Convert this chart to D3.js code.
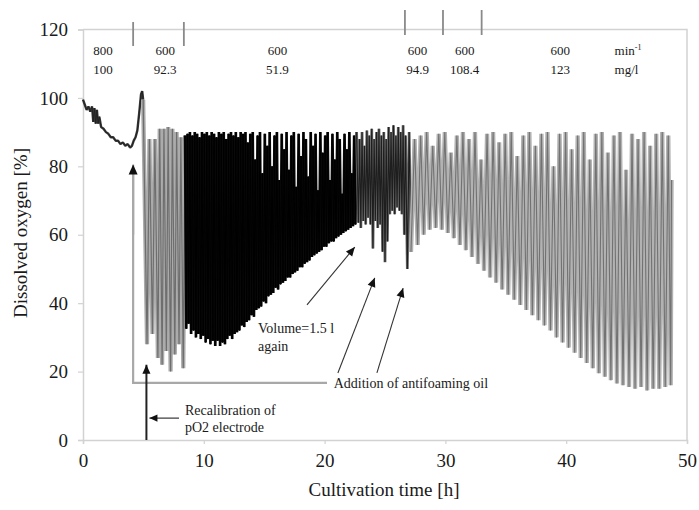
<!DOCTYPE html>
<html>
<head>
<meta charset="utf-8">
<script src="https://cdn.jsdelivr.net/npm/d3@7"></script>
<style>
  html, body { margin: 0; padding: 0; background: #fff; }
  svg { display: block; }
  text { font-family: "Liberation Serif", "Times New Roman", serif; fill: #1a1a1a; }
</style>
</head>
<body>
<svg id="chart" width="699" height="510"></svg>
<script>
// ---- Axis ticks ----
const xTicks = [0, 10, 20, 30, 40, 50];
const yTicks = [0, 20, 40, 60, 80, 100, 120];

// ---- Process phases (stirrer speed / feed rate) ----
const phaseT = [4.15, 8.35, 26.65, 29.8, 33.0];          // phase change times [h]
const phaseLabelT = [1.66, 6.8, 16.1, 27.7, 31.6, 39.5];  // label centres [h]
const stirRate = ["800", "600", "600", "600", "600", "600"];
const feedRate = ["100", "92.3", "51.9", "94.9", "108.4", "123"];

// ---- Dissolved oxygen record [h, %] ----
// batch phase, slow decline
const batchDO = [
  [0, 99.5], [0.15, 98], [0.3, 96.5], [0.45, 97.5], [0.6, 96], [0.75, 97.5], [0.85, 93], [0.95, 97],
  [1.05, 92.5], [1.15, 96.5], [1.25, 92.5], [1.35, 94.5], [1.5, 91.5], [1.7, 91], [1.9, 90], [2.1, 89.5],
  [2.3, 88.5], [2.5, 88.5], [2.7, 87.5], [2.9, 87.5], [3.1, 86.5], [3.3, 87], [3.5, 86], [3.7, 86.5],
  [3.9, 85.5], [4.05, 86], [4.2, 87.5], [4.35, 88.5], [4.5, 90.5], [4.65, 95.5], [4.8, 101], [4.9, 102], [4.98, 99.5]
];
// first feeding cycles after recalibration
const earlyDO = [
  [5.3, 28], [5.5, 88], [5.75, 31], [5.95, 88], [6.2, 24], [6.35, 91], [6.55, 22], [6.7, 91],
  [6.9, 26], [7.05, 91.5], [7.25, 20], [7.4, 91], [7.6, 25], [7.75, 90], [7.95, 28], [8.1, 88.5],
  [8.3, 21], [8.45, 89]
];
// dense oscillation phase
const denseDO = [
  [8.55, 32.5], [8.65, 89.5], [8.75, 34], [8.85, 90], [8.95, 31], [9.05, 89], [9.15, 32], [9.25, 90],
  [9.35, 30], [9.45, 89.5], [9.55, 31], [9.65, 88.5], [9.75, 29.5], [9.85, 90], [9.95, 30.5], [10.05, 89.5],
  [10.15, 28.5], [10.25, 90], [10.35, 29.5], [10.45, 89], [10.55, 28], [10.65, 90], [10.75, 29], [10.85, 89.5],
  [10.95, 27.5], [11.05, 88.5], [11.15, 29], [11.25, 90], [11.35, 27.5], [11.45, 89.5], [11.55, 28.5], [11.65, 90],
  [11.75, 28], [11.85, 88], [11.95, 29.5], [12.05, 89.5], [12.15, 30.5], [12.25, 90], [12.35, 29.5], [12.45, 89],
  [12.55, 31], [12.65, 90], [12.75, 31.5], [12.85, 88.5], [12.95, 32], [13.05, 90], [13.15, 33.5], [13.25, 89.5],
  [13.35, 33], [13.45, 90], [13.55, 34.5], [13.65, 87], [13.75, 35], [13.85, 89.5], [13.95, 36.5], [14.05, 90],
  [14.15, 36], [14.25, 82], [14.35, 38], [14.45, 89], [14.55, 38.5], [14.65, 90], [14.75, 39], [14.85, 78],
  [14.95, 40.5], [15.05, 89.5], [15.15, 40], [15.25, 86], [15.35, 42], [15.45, 90], [15.55, 42.5], [15.65, 80],
  [15.75, 43], [15.85, 89], [15.95, 44.5], [16.05, 90], [16.15, 44], [16.25, 76], [16.35, 45.5], [16.45, 89.5],
  [16.55, 46], [16.65, 85], [16.75, 46.5], [16.85, 90], [16.95, 47.5], [17.05, 79], [17.15, 47.5], [17.25, 89],
  [17.35, 48.5], [17.45, 90], [17.55, 49], [17.65, 74], [17.75, 49.5], [17.85, 89.5], [17.95, 50.5], [18.05, 83],
  [18.15, 50.5], [18.25, 90], [18.35, 51.5], [18.45, 88], [18.55, 52], [18.65, 77], [18.75, 52.5], [18.85, 90],
  [18.95, 53.5], [19.05, 86], [19.15, 54], [19.25, 89.5], [19.35, 54.5], [19.45, 73], [19.55, 55], [19.65, 90],
  [19.75, 55.5], [19.85, 84], [19.95, 56.5], [20.05, 89], [20.15, 56.5], [20.25, 90], [20.35, 57.5], [20.45, 76],
  [20.55, 58], [20.65, 89.5], [20.75, 58], [20.85, 82], [20.95, 59], [21.05, 90], [21.15, 59.5], [21.25, 88],
  [21.35, 60], [21.45, 72], [21.55, 60.5], [21.65, 89.5], [21.75, 61], [21.85, 85], [21.95, 61.5], [22.05, 90],
  [22.15, 62], [22.25, 78], [22.35, 62.5], [22.45, 89], [22.55, 63], [22.65, 90]
];
// volume reset and antifoam additions
const transitionDO = [
  [22.8, 63.5], [22.9, 88], [23.0, 62], [23.1, 90], [23.2, 64], [23.3, 86], [23.4, 63], [23.5, 90.5],
  [23.6, 65], [23.7, 89], [23.8, 63], [23.9, 91], [24.0, 56], [24.1, 88], [24.2, 64], [24.3, 90],
  [24.4, 62], [24.5, 91], [24.6, 63], [24.7, 89], [24.8, 55], [24.9, 90], [25.0, 52], [25.1, 88],
  [25.2, 58], [25.3, 91.5], [25.4, 66], [25.5, 90], [25.6, 67], [25.7, 92], [25.8, 66], [25.9, 89],
  [26.0, 68], [26.1, 91.5], [26.2, 67], [26.3, 90], [26.4, 66], [26.5, 92], [26.6, 60], [26.7, 89],
  [26.85, 50], [27.0, 90], [27.15, 55]
];
// late fed-batch cycles
const lateDO = [
  [27.45, 88], [27.7, 57], [27.95, 89], [28.2, 60], [28.45, 90], [28.7, 61.5], [28.95, 86], [29.2, 62],
  [29.45, 89.5], [29.7, 61.5], [29.95, 90], [30.2, 60.5], [30.45, 84], [30.7, 59], [30.95, 89], [31.2, 57],
  [31.45, 90], [31.7, 55.5], [31.95, 88], [32.2, 53.5], [32.45, 90], [32.7, 51.5], [32.95, 82], [33.2, 49.5],
  [33.45, 89.5], [33.7, 47.5], [33.95, 90], [34.2, 46], [34.45, 87], [34.7, 44], [34.95, 89.5], [35.2, 42.5],
  [35.45, 90], [35.7, 41], [35.95, 83], [36.2, 39.5], [36.45, 89], [36.7, 38], [36.95, 90], [37.2, 36.5],
  [37.45, 86], [37.7, 35], [37.95, 89.5], [38.2, 33.5], [38.45, 90], [38.7, 32], [38.95, 80], [39.2, 30],
  [39.45, 89.5], [39.7, 28.5], [39.95, 90], [40.2, 27], [40.45, 85], [40.7, 25.5], [40.95, 89], [41.2, 24],
  [41.45, 90], [41.7, 22.5], [41.95, 82], [42.2, 21], [42.45, 89.5], [42.7, 19.5], [42.95, 90], [43.2, 18.5],
  [43.45, 84], [43.7, 17.5], [43.95, 89], [44.2, 16.5], [44.45, 90], [44.7, 16], [44.95, 79], [45.2, 15.5],
  [45.45, 89.5], [45.7, 15], [45.95, 88], [46.2, 15.5], [46.45, 90], [46.7, 14.5], [46.95, 86], [47.2, 15],
  [47.45, 89.5], [47.7, 15], [47.95, 90], [48.2, 15.5], [48.45, 89], [48.65, 16], [48.72, 76]
];

// ---- Layout ----
const svg = d3.select("#chart");
svg.append("rect").attr("width", 699).attr("height", 510).attr("fill", "#fff");

const x = d3.scaleLinear().domain([0, 50]).range([83, 687]);
const y = d3.scaleLinear().domain([0, 120]).range([440, 29.5]);
const frameColor = "#d2d2d2";

// plot frame (top and right edges)
svg.append("path")
  .attr("d", `M${x(0)},${y(120)}H${x(50)}V${y(0)}`)
  .attr("fill", "none").attr("stroke", frameColor).attr("stroke-width", 1.5);

// axes
const gx = svg.append("g").attr("transform", `translate(0,${y(0)})`)
  .call(d3.axisBottom(x).tickValues(xTicks).tickSize(4).tickPadding(10).tickFormat(d3.format("d")));
const gy = svg.append("g").attr("transform", `translate(${x(0)},0)`)
  .call(d3.axisLeft(y).tickValues(yTicks).tickSize(5).tickPadding(10).tickFormat(d3.format("d")));
[gx, gy].forEach(g => {
  g.select(".domain").attr("stroke", frameColor).attr("stroke-width", 1.5);
  g.selectAll(".tick line").attr("stroke", frameColor).attr("stroke-width", 1.2);
  g.selectAll(".tick text").style("font-family", '"Liberation Serif", serif')
    .style("font-size", "19px").attr("fill", "#222");
});

// axis titles
svg.append("text").attr("x", 384).attr("y", 496).attr("text-anchor", "middle")
  .style("font-size", "19px").text("Cultivation time [h]");
svg.append("text").attr("transform", `translate(27,${233}) rotate(-90)`).attr("text-anchor", "middle")
  .style("font-size", "19px").text("Dissolved oxygen [%]");

// ---- DO trace, drawn segment by segment (a wide base stroke plus a fine core) ----
const line = d3.line().x(d => x(d[0])).y(d => y(d[1]));
const segments = [
  { pts: batchDO, base: "#3a3a3a", bw: 2.4, core: "#222", cw: 1 },
  { pts: earlyDO, base: "#ababab", bw: 4.2, core: "#6e6e6e", cw: 1.2 },
  { pts: denseDO, base: "#0a0a0a", bw: 2.7, core: "#000", cw: 1 },
  { pts: transitionDO, base: "#6a6a6a", bw: 2.8, core: "#1e1e1e", cw: 1.1 },
  { pts: lateDO, base: "#b2b2b2", bw: 4.3, core: "#727272", cw: 1.1 }
];
let prev = null;
segments.forEach(s => {
  const pts = prev ? [prev].concat(s.pts) : s.pts;
  svg.append("path").attr("d", line(pts)).attr("fill", "none")
    .attr("stroke", s.base).attr("stroke-width", s.bw).attr("stroke-linejoin", "bevel");
  svg.append("path").attr("d", line(pts)).attr("fill", "none")
    .attr("stroke", s.core).attr("stroke-width", s.cw).attr("stroke-linejoin", "bevel");
  prev = s.pts[s.pts.length - 1];
});

// ---- Phase markers and labels ----
phaseT.forEach((t, i) => {
  const top = i < 2 ? 22 : 10, bot = i < 2 ? 46 : 35;
  svg.append("line").attr("x1", x(t)).attr("x2", x(t)).attr("y1", top).attr("y2", bot)
    .attr("stroke", "#8a8a8a").attr("stroke-width", 1.8);
});
phaseLabelT.forEach((t, i) => {
  svg.append("text").attr("x", x(t)).attr("y", 55).attr("text-anchor", "middle")
    .style("font-size", "13px").text(stirRate[i]);
  svg.append("text").attr("x", x(t)).attr("y", 74).attr("text-anchor", "middle")
    .style("font-size", "13px").text(feedRate[i]);
});
const unitX = x(44.0);
const u1 = svg.append("text").attr("x", unitX).attr("y", 55).style("font-size", "13px");
u1.append("tspan").text("min");
u1.append("tspan").attr("dy", -5).style("font-size", "8px").text("-1");
svg.append("text").attr("x", unitX).attr("y", 74).style("font-size", "13px").text("mg/l");

// ---- Annotations ----
function arrow(x1, y1, x2, y2, color, w, head) {
  svg.append("line").attr("x1", x1).attr("y1", y1).attr("x2", x2).attr("y2", y2)
    .attr("stroke", color).attr("stroke-width", w);
  const a = Math.atan2(y2 - y1, x2 - x1);
  const hx = head, hy = head * 0.45;
  const p = [
    [x2, y2],
    [x2 - hx * Math.cos(a) + hy * Math.sin(a), y2 - hx * Math.sin(a) - hy * Math.cos(a)],
    [x2 - hx * Math.cos(a) - hy * Math.sin(a), y2 - hx * Math.sin(a) + hy * Math.cos(a)]
  ];
  svg.append("polygon").attr("points", p.map(q => q.join(",")).join(" ")).attr("fill", "#111");
}

// bracket for antifoam additions
svg.append("path")
  .attr("d", `M${x(20.2)},${y(16.7)}H${x(4.15)}V${y(78)}`)
  .attr("fill", "none").attr("stroke", "#a8a8a8").attr("stroke-width", 2.2);
arrow(x(4.15), y(60), x(4.15), y(80.5), "#a8a8a8", 2.2, 10);
svg.append("text").attr("x", x(20.75)).attr("y", y(16.7) + 5).style("font-size", "14px")
  .text("Addition of antifoaming oil");
arrow(x(21.1), y(19.6), x(24.15), y(47.4), "#333", 1.1, 9);
arrow(x(24.33), y(19.6), x(26.5), y(44.4), "#333", 1.1, 9);

// volume reset
arrow(x(18.54), y(39.5), x(22.5), y(56.4), "#333", 1.1, 9);
svg.append("text").attr("x", 258).attr("y", y(32.8) + 5).style("font-size", "14px").text("Volume=1.5 l");
svg.append("text").attr("x", 258).attr("y", y(27.6) + 5).style("font-size", "14px").text("again");

// pO2 recalibration
arrow(x(5.25), y(0), x(5.25), y(22), "#222", 2, 9);
arrow(x(7.95), y(6.4), x(5.5), y(6.4), "#222", 1.1, 8);
svg.append("text").attr("x", 185).attr("y", y(8.9) + 5).style("font-size", "14px").text("Recalibration of");
svg.append("text").attr("x", 185).attr("y", y(3.7) + 5).style("font-size", "14px").text("pO2 electrode");
</script>
</body>
</html>
